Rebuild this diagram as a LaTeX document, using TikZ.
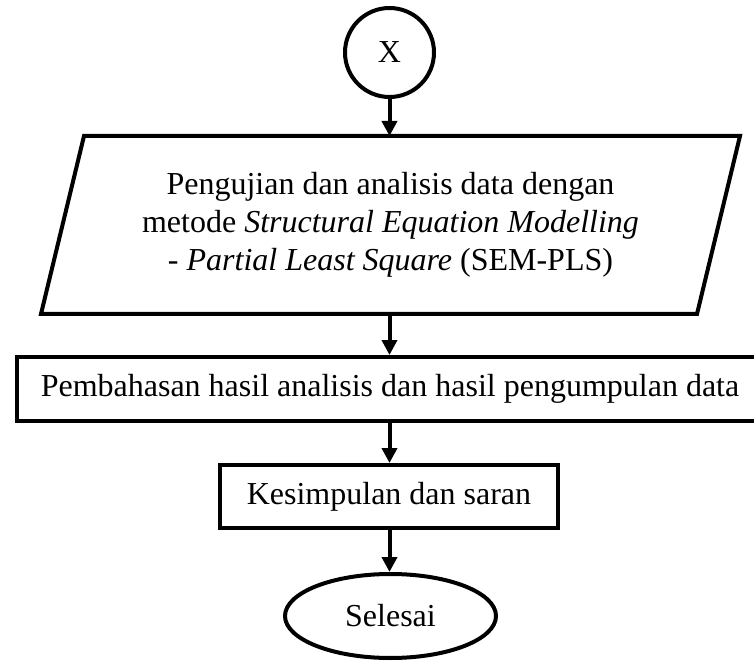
\documentclass[tikz,border=0pt]{standalone}
\usepackage{fontspec}
\setmainfont{Liberation Serif}
\usetikzlibrary{arrows.meta,shapes.geometric}
\begin{document}
\begin{tikzpicture}[x=0.75pt,y=-0.75pt,
  every node/.style={font=\fontsize{24}{28.5}\selectfont, inner sep=0pt, outer sep=1.5pt},
  outline/.style={draw=black, line width=3pt},
  flow/.style={line width=3pt, -{Triangle[length=11.25pt,width=11.25pt]}},
]
\useasboundingbox (0,0) rectangle (754,663);

% off-page connector
\node[outline, circle, minimum size=66.75pt] (conn) at (389.5,52.5) {X};

% input/output step (parallelogram drawn around the text node)
\node[minimum width=489pt, minimum height=130.5pt, align=center] (analysis) at (390.5,225)
  {Pengujian dan analisis data dengan\\
   metode \textit{Structural Equation Modelling}\\
   - \textit{Partial Least Square} (SEM-PLS)};
\draw[outline, line join=miter]
  ([xshift=16.125pt]analysis.north west) -- ([xshift=16.125pt]analysis.north east)
  -- ([xshift=-16.125pt]analysis.south east) -- ([xshift=-16.125pt]analysis.south west) -- cycle;

% process steps
\node[outline, minimum width=559.5pt, minimum height=48pt] (discuss) at (390,389)
  {Pembahasan hasil analisis dan hasil pengumpulan data};
\node[outline, minimum width=253.5pt, minimum height=47.25pt] (conclude) at (389,496.5)
  {Kesimpulan dan saran};

% terminator
\node[outline, ellipse, minimum width=158.25pt, minimum height=63pt] (finish) at (390.5,616) {Selesai};

% connectors
\draw[flow] (conn.south) -- (conn.south |- analysis.north);
\draw[flow] (conn.south |- analysis.south) -- (conn.south |- discuss.north);
\draw[flow] (conn.south |- discuss.south) -- (conn.south |- conclude.north);
\draw[flow] (conn.south |- conclude.south) -- (conn.south |- finish.north);
\end{tikzpicture}
\end{document}
